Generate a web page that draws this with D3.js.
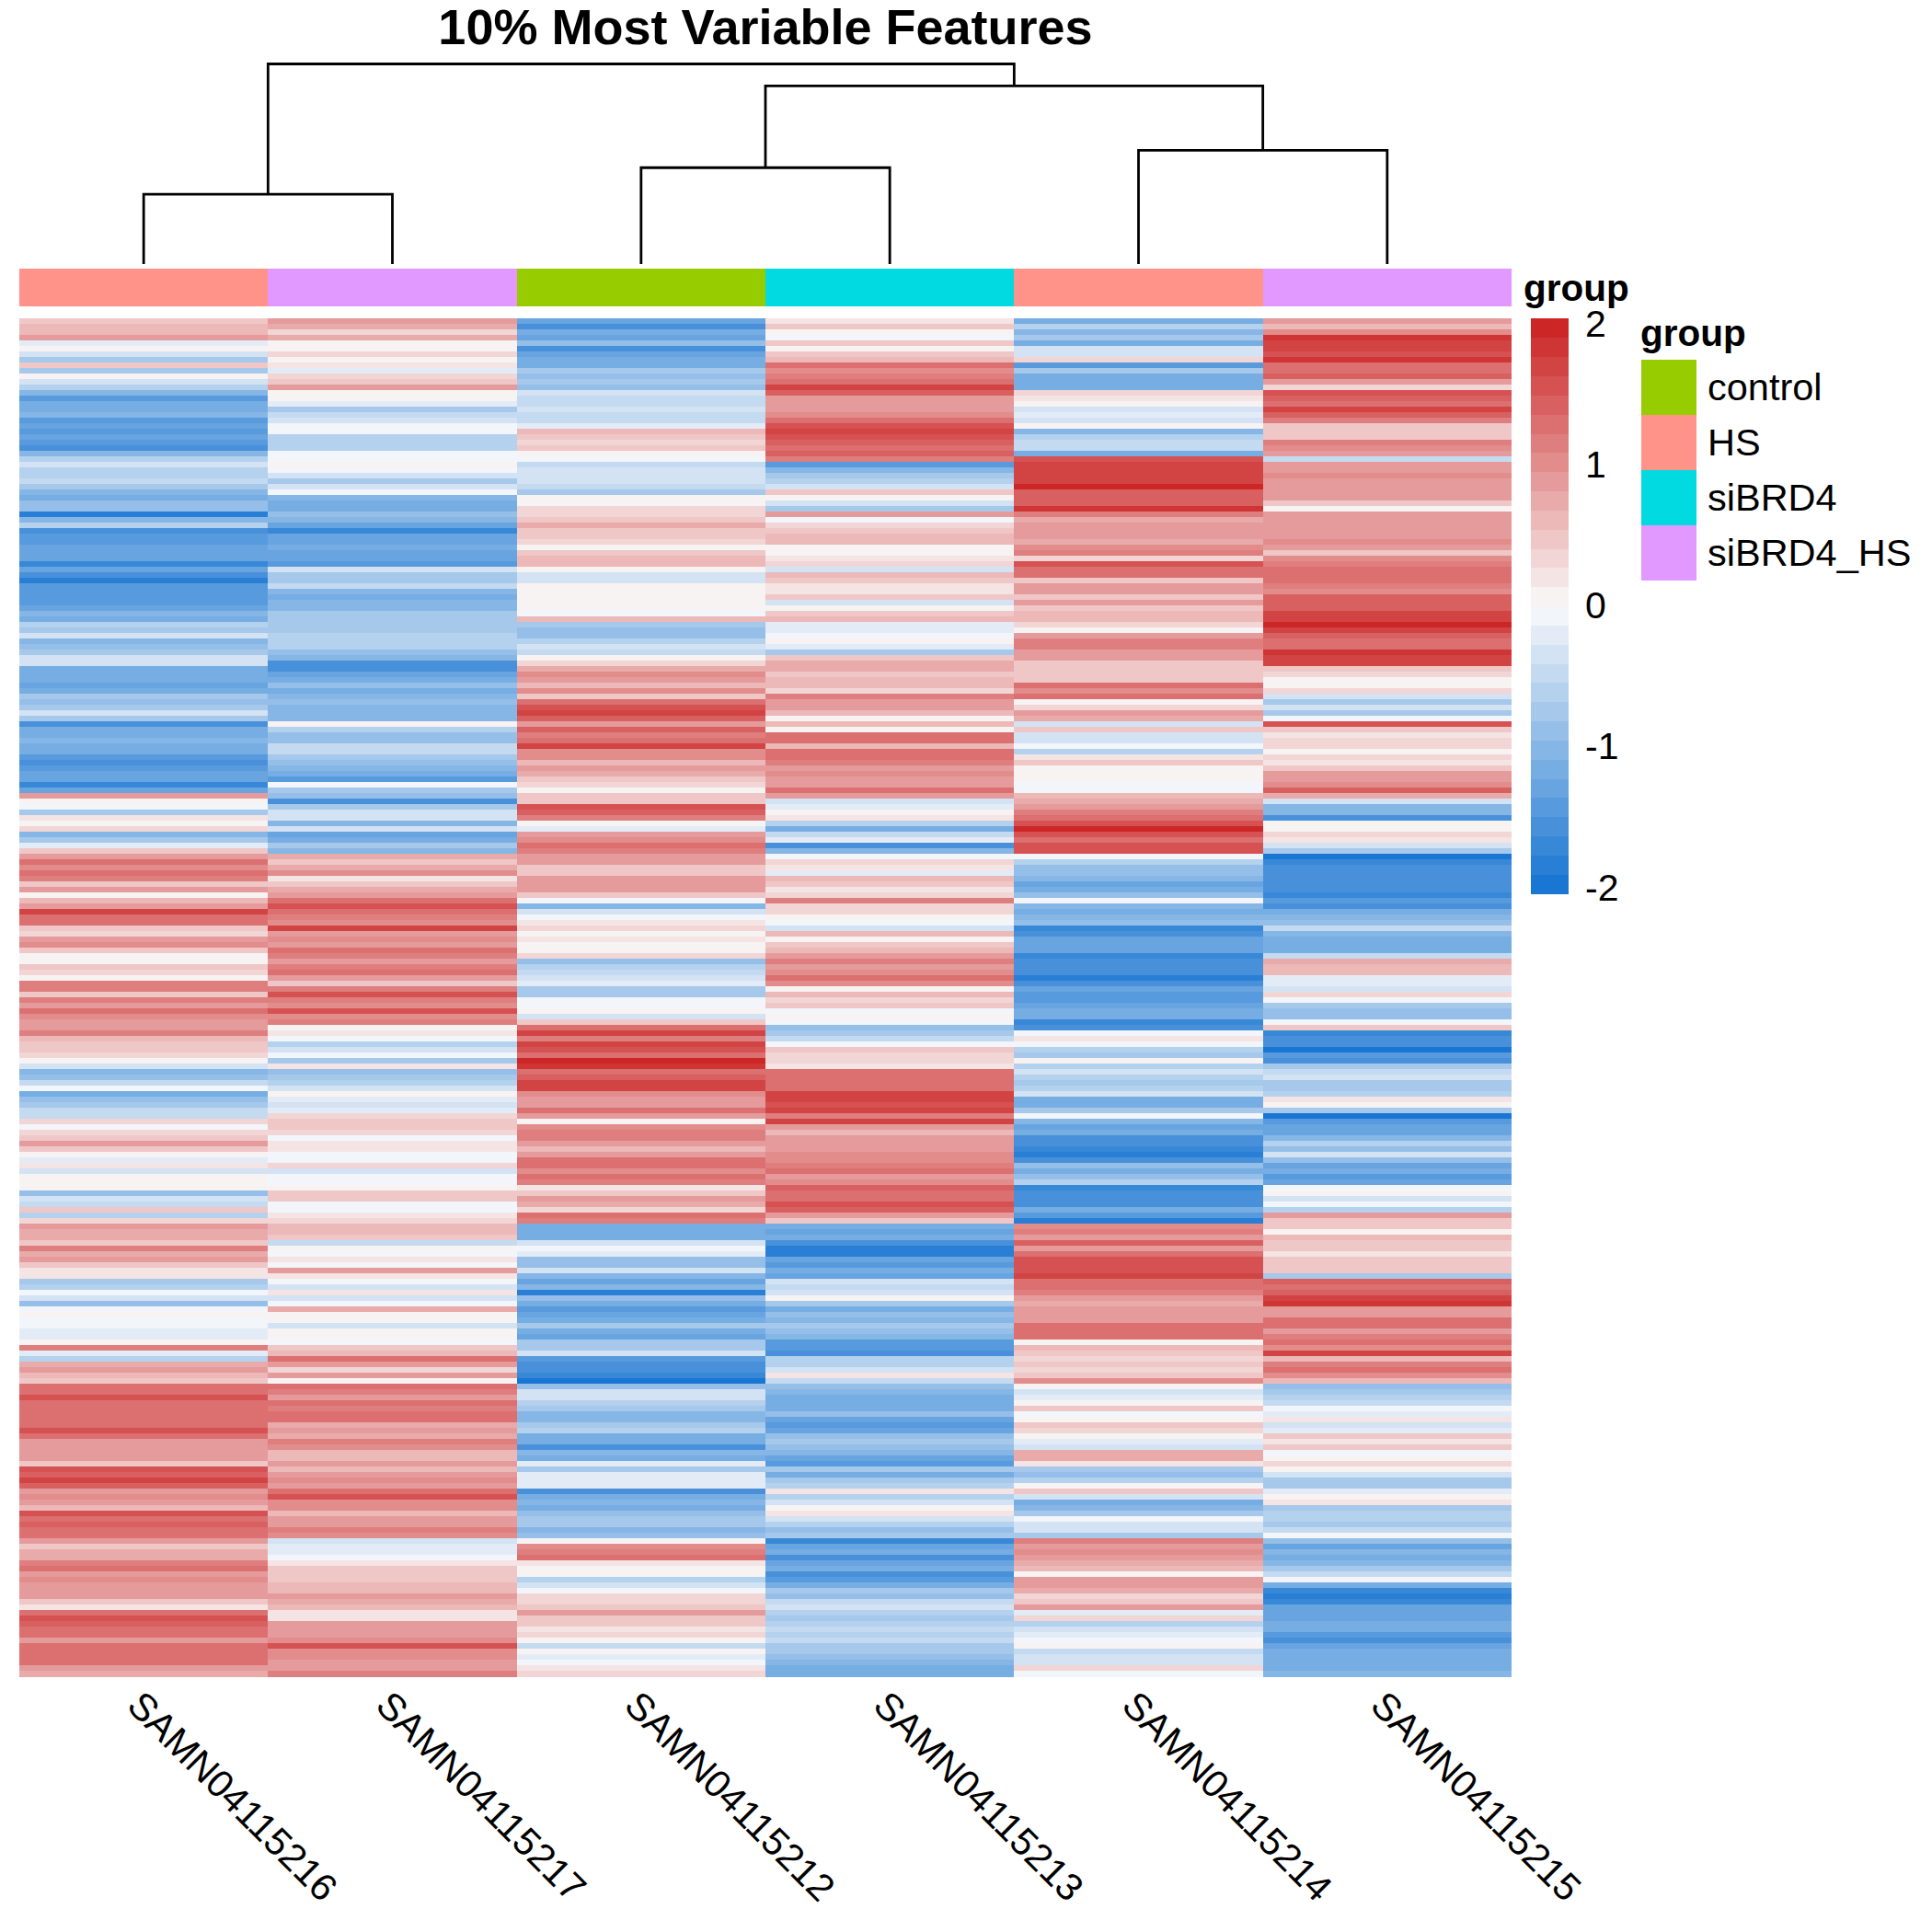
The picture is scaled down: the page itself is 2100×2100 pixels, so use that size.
<!DOCTYPE html>
<html><head><meta charset="utf-8">
<script src="https://cdn.jsdelivr.net/npm/d3@7"></script>
<style>html,body{margin:0;padding:0;background:#fff}svg{display:block}text{font-family:"Liberation Sans",Arial,sans-serif;fill:#000}</style>
</head><body><div id="chart"></div>
<script>
const chartTitle = "10% Most Variable Features";
const samples = ["SAMN04115216","SAMN04115217","SAMN04115212","SAMN04115213","SAMN04115214","SAMN04115215"];
const sampleGroup = ["HS","siBRD4_HS","control","siBRD4","HS","siBRD4_HS"];
const groupNames = ["control","HS","siBRD4","siBRD4_HS"];
const groupColors = ["#97CC00","#FF9289","#00DAE0","#E199FF"];
const legendTicks = [2,1,0,-1,-2];
const rampStops = ["#1976D2","#FAFAFA","#CC2626"];

// z-scores estimated by eye from top to bottom
const s216 = [
.4,.6,.6,.8,-.2,0,-.4,-.8,.4,-.7,0,-.4,-.6,-1,-1.4,-1.2,-1.2,-1,-1.4,-1.3,-1.4,-1.3,-1.4,-1.5,-1,-.6,-.3,-.6,-.6,-.5,-.8,-1,-1.1,-.9,-.9,-1.8,-1,-.6,-1.5,-1.4,-1.4,-1.3,-1.3,-1.3,-1.7,-1.3,-1.5,-1.8,-1.4,-1.4,-1.4,-1.4,-1.3,-1,-1.2,-.6,-.7,-.3,-1,-.9,-.7,-.3,-.4,-1.1,-1.2,-1.1,
-1.3,-1.1,-.8,-.9,-.8,-.4,-.8,-1.5,-1.1,-1.1,-1,-1.1,-1.2,-1.4,-1.5,-1.4,-1.3,-1.3,-1.7,-1.3,.9,.1,
-.1,-.7,.2,.1,.3,-1,-.7,-.2,.4,.8,1.2,1,1.3,1.1,.5,.9,.1,.6,.9,1.6,1.3,1.2,.4,
.3,.9,1,.5,.1,.1,.5,.3,.1,1.1,1.1,.5,1.1,.9,1.2,1,.9,.8,1.1,.6,.4,.5,.3,
0,-.4,-1,-.9,-.5,-.1,-1.2,-.9,-.8,-.5,-.5,.3,-.1,.3,.5,.9,.5,.1,-.2,.2,-.3,.1,.1,
0,-.9,-.3,-.5,.5,-.6,.3,.8,.7,.7,.5,1.1,.7,.8,.4,.2,.2,-.7,-.6,-.1,-.3,-.9,
-.1,.1,-.1,-.1,-.2,-.2,.1,1.1,-.2,-.6,.7,.9,.6,.5,1.3,1.3,1.5,1.3,1.2,1.2,1.3,1.3,1.5,
1.2,.8,.9,.8,.8,.5,1.5,1.4,1.6,1.4,.8,1,.9,.6,1.5,1.3,1.4,1.2,1.3,.9,.4,.7,.7,
1.1,1.2,.8,1,.9,.8,.8,.5,.2,1.2,1.5,1.4,1.3,1.2,.9,1.2,1.2,1.3,1.3,.8,.7];
const s217 = [
.9,.7,.3,.7,0,0,.3,0,.2,-.2,.3,.5,.9,0,.1,-.2,-.8,-.5,-.4,-.1,-.1,-.6,-.6,-.6,-.1,-.1,.1,-.1,-.4,-.8,-.4,-.1,-1,-1.2,-1.1,-.9,-1,-1.3,-1.7,-1.3,-1.3,-1.2,-1.3,-1.3,-1.4,-.3,-.8,-.8,-.5,-1,-1.1,-1,-1,-.8,-.7,-.7,-.7,-.6,-.6,-.6,-.9,-1,-1.5,-1.5,-1.3,-1.2,
-.9,-1.2,-1,-.9,-1,-1,-1,.1,-.6,-.9,-.9,-.5,-.5,-.7,-.9,-1,-1.1,-1.4,-.1,-.8,-.9,-1.6,
-.7,-.3,-.3,-1,-.3,-1.3,-1.2,-.8,-1,.7,.5,.7,1,.2,.5,.7,.9,1.2,1.5,1.2,1.1,1,1.6,
.8,1,.9,1.3,1.1,.9,1.1,1.2,.8,.4,1.1,1.5,1.1,1,1.5,1,1.1,.1,.2,-.1,-.6,-.3,-.1,
-.8,.2,-.9,-.8,-.6,-.3,.1,-.2,-.4,-.2,.3,.5,.4,.3,-.1,.2,.2,-.1,-.1,.3,-.4,-.1,-.1,
.1,.5,.4,-.1,-.1,.2,.3,.6,.6,.4,-.5,.1,-.1,.2,-.1,.8,.2,-.1,-.4,.2,-.4,-.1,
.7,.1,.1,-.3,.1,.1,-.1,.5,.6,1.3,.8,.3,.8,.1,1.2,1.1,.9,1.2,1.1,1.3,1.2,.7,.8,
.7,1.1,1,.6,.6,.9,.6,.9,1,.8,1.3,1.5,1,1,.6,.9,.9,1.1,1,-.4,-.2,-.2,-.1,
.2,.5,.5,.5,.6,.6,.9,.7,.6,.2,.2,.8,.8,.9,1,1.5,1,1,.9,.8,1.1];
const s212 = [
-1.3,-1.5,-1.2,-1.3,-.9,-1.5,-1.3,-1.2,-1.2,-.8,-.9,-.7,-.9,-.4,-.5,-.5,-.3,-.5,-.5,-.2,.6,.5,.3,.5,.1,-.1,-.5,-.4,-.3,-.4,-.5,-.7,0,.1,.3,.3,.5,.7,.5,.4,.3,.1,.4,.6,.6,.1,-.3,-.3,0,.1,0,.1,0,-.1,.6,-.7,-.9,-.9,-.6,-.4,-.5,.1,.3,.7,1,.9,
.6,1,.5,1.3,1.5,1.7,1.4,.8,1.4,1.1,1.2,1.6,1,1,.6,.9,.7,.5,.3,.1,.4,.5,
1.5,1.4,1.1,0,-.2,.8,1,1.3,1.1,.9,.8,.5,.5,.9,.8,.9,.5,-.1,-1,-.4,-.1,.2,.3,
.1,.2,.1,0,.3,-.9,-.6,-.5,-.4,-.2,-.8,-.8,-.1,-.1,0,-.3,.5,1.3,1.6,1.1,1.6,1.5,1.3,
1.9,1.8,1.3,1.4,1.6,1.7,1,.8,.8,1.2,.8,.1,1,1.1,1.1,.8,.6,.9,1.3,1.3,1,1.2,1.1,
.2,.4,.8,.7,.3,1.3,1.1,-1.2,-1.1,-1.2,-.3,-.1,-.2,-.9,-.9,-.4,-1,-1.3,-1,-1.8,-.9,-1.2,
-1.4,-1.3,-1.2,-.8,-1.2,-1.3,-.8,-.7,-.4,-1.4,-1.6,-1.6,-1.7,-1.9,-.9,-.4,-.3,-.6,-.8,-1,-1,-.8,-.6,
-1.1,-1.2,-1.5,-1,-1.1,-.2,-.8,-.2,-.2,-.2,-1.6,-1.1,-1,-1.2,-.9,-.7,-.8,-1,-.9,.1,1,1.1,1.2,
.2,0,.1,-.6,-.3,-.1,.3,.3,.5,.9,.5,.5,.2,.3,.1,-.5,0,-.2,-.1,.2,.3];
const s213 = [
.2,.5,0,-.1,.4,.1,.5,.6,1.3,1,1.1,1.2,1.7,1.4,.9,.9,.9,1,1.2,1.5,1.6,1.5,1.4,1.3,1.4,1.1,-1.4,-1,-.7,-.6,-.3,.4,0,-.4,-.8,.9,-.1,.3,.4,.6,.6,.1,0,.2,.3,-.3,.6,.4,.2,.2,.5,-.3,.1,.4,.6,-.2,-.2,-.1,0,-.2,-.7,.5,.7,.7,.5,.6,
.6,.3,1.1,.9,.8,.6,.1,.6,.1,1.3,1.2,.6,1.2,1.3,1.1,.9,1,.8,.9,1.2,.9,-.3,
-.2,0,.2,-.6,-1.1,-.5,-.2,-1.6,-1,-.1,.3,.2,-.2,.6,.4,.2,.3,1.1,.3,.3,.1,-.1,-.4,
.6,.1,.4,.6,.8,1.1,.9,1,1.2,1,0,.6,.3,.5,-.1,.1,-.1,-.9,-.7,-.5,-.1,.4,.3,
.3,.2,1.2,1.3,1.2,1.2,1.6,1.6,1.5,1.7,1.1,1.6,.9,.6,.9,.8,.9,1,1,1.1,1.2,.9,1,
1.4,1.3,1.2,1.5,1.4,.9,.5,-1.1,-1.3,-1.1,-1.5,-1.8,-1.8,-1.3,-1.4,-1.2,-1.3,-.4,-.5,-.3,.1,-.8,
-1.1,-.9,-1,-.7,-.9,-1,-1.4,-1.4,-1.6,-.6,-.6,-.3,.2,-.5,-.9,-1,-1.1,-1.1,-1.1,-.9,-1.3,-1.4,-1.3,
-.9,-.8,-.9,-1,-1.3,-1.4,-.8,-1.2,-.8,-.6,.2,-.6,-.4,0,.2,-.3,-.6,-.9,-.7,-1.7,-1.3,-1.2,-1.5,
-1.3,-1.2,-1.6,-1.4,-1.1,-.7,-.9,-.5,-.3,-.6,-.8,-.6,-.5,-.6,-.5,-.8,-.7,-.9,-1,-1.1,-1.2];
const s214 = [
-1.1,-.6,-1,-.8,-1.2,-.3,-.3,.3,-1.4,-.8,-1.2,-1.2,-1.1,.3,.2,.1,-.3,-.2,-.4,0,-1,-.6,-.5,-.5,-1.1,1.5,1.7,1.7,1.6,1.6,1.9,1.4,1.4,1.4,1.8,1.1,.7,.8,.8,.8,.7,1,1.1,.3,1.5,1.2,1.2,.5,.9,.9,.5,.9,.4,.6,.6,.3,0,.9,1.1,1.1,.9,.8,.4,.5,.5,.5,
1.2,1,1.3,.1,.3,.9,.7,-.3,.4,-.3,-.3,-.1,-.6,.2,.5,.1,.1,.1,-.1,-.1,.6,.7,
.9,1.1,1.2,1.5,1.9,1.5,1.2,1.5,1.5,-.1,-.6,-.9,-.9,-1,-1.3,-1.2,-.9,-.1,-1,-1.1,-1,-.9,-1.7,
-1.6,-1.3,-1.3,-1.3,-1.7,-1.5,-1.6,-1.6,-1.8,-1.5,-1.3,-1.4,-1.4,-1.3,-1.2,-1.1,-1.7,-1.6,-.1,.2,-.1,-.6,-.8,
0,-.6,-.3,-.6,-.7,-.6,-.3,-1.2,-1.1,-.8,-.1,-1,-1.3,-1.2,-1.5,-1.6,-1.7,-1.8,-1.5,-.9,-1.1,-.9,-.6,
-1.7,-1.6,-1.5,-1.5,-1.1,-1.4,-1.8,1,1.1,.8,1.4,.8,1.3,1.5,1.5,1.5,1.6,1.3,1.2,1.1,.8,.7,
.8,.8,.9,1.3,1.2,1.2,.1,.6,.5,.3,.4,.3,.4,1,0,-.4,-.2,.1,.5,-.1,0,.5,.3,
.1,-.2,-.3,.7,.7,.2,-.8,-.9,-.6,.1,.5,-.3,-1.2,-1,-.8,-.1,-.3,-.3,-.7,1.1,.8,1,.9,
.7,.6,.1,.8,.8,.7,.3,.4,.9,-.2,.3,-.6,-.3,-.2,-.1,0,-.5,-.3,-.3,.3,-.1];
const s215 = [
.8,.6,1,1.8,1.7,1.7,1.5,1.8,1.2,1.3,1.4,.8,.3,1.5,1.4,1.3,1.7,1.4,1.1,.5,.5,.5,1.1,1,.9,-.5,.9,.8,1,.8,.9,.9,.8,.4,.1,.8,.9,.9,.8,.9,1,.9,.5,1,1.1,1.2,1.3,1.3,1.1,1,1.4,1.4,1.4,1.6,1.7,2,1.6,1.4,1.3,1.3,1.8,1.6,1.6,.4,.3,0,
.1,.3,-.4,-.7,-.4,-.8,-.1,1.5,.5,.2,.3,.3,.1,.3,.2,.5,.9,.9,1,1.4,.7,-.3,
-1,-1,-1.6,.1,0,.3,.2,-.4,-.7,-1.9,-1.7,-1.6,-1.6,-1.5,-1.6,-1.6,-1.7,-1.4,-1.5,-1.2,-1,-.9,-.5,
-1,-1.1,-1.1,-1.2,-.5,.7,.6,.6,-.2,-.2,-.3,.3,-.1,-.7,-.9,-.9,-.1,.4,-1.7,-1.6,-1.5,-1.9,-1.4,
-1.5,-.8,-.5,-.4,-.8,-.8,-.6,.2,.1,-.8,-1.9,-1.4,-1.3,-1.3,-1,-.6,-.9,-.4,-.9,-1.3,-1.2,-1.4,-1.3,
-.1,0,-.4,-.1,-.6,.9,.5,.4,.1,.6,.5,.4,.2,.4,.5,.4,-.7,1.4,1.3,1.4,1.6,1.8,
.8,.8,1.2,1.2,.9,1.1,1.3,1,1.7,.6,1.1,1.3,1,.6,-.9,-.8,-.6,-.5,-.1,-.2,.2,-.3,-.2,
.4,.2,.5,-.1,.1,.3,.1,-.4,-.8,-.7,-.2,0,.2,-.8,-.6,-.6,-.7,-.5,-.1,-.9,-1.3,-1,-1.1,
-1,-.8,-.5,-.1,-1.2,-1.7,-1.8,-1.7,-1.3,-1.3,-1.3,-1.1,-1.2,-1.4,-1.5,-1.3,-1.2,-1.1,-1.2,-1.1,-1];
const columns = [s216,s217,s212,s213,s214,s215];

// dendrogram merge heights
const mergeLeft = 76, mergeMid = 105, mergeRight = 124, mergeInner = 194, mergeRoot = 218;

const W=2100,H=2100;
const svg=d3.select("#chart").append("svg").attr("width",W).attr("height",H);

const x=d3.scaleBand().domain(samples).range([21,1643]);
const nRows=d3.max(columns,c=>c.length);
const y=d3.scaleBand().domain(d3.range(nRows)).range([346,1822]);

const ramp=d3.scaleLinear().domain([0,.5,1]).range(rampStops).interpolate(d3.interpolateRgb);
const palette=d3.range(30).map(i=>ramp(i/29));
const color=d3.scaleQuantize().domain([-2,2]).range(palette);

// heat cells
const gHeat=svg.append("g").attr("shape-rendering","crispEdges");
samples.forEach((s,ci)=>{
  gHeat.append("g").selectAll("rect").data(columns[ci]).join("rect")
    .attr("x",x(s)).attr("width",x.bandwidth())
    .attr("y",(d,i)=>y(i)).attr("height",y.bandwidth()+.5)
    .attr("fill",d=>color(d));
});

// annotation strip
const gColor=d3.scaleOrdinal().domain(groupNames).range(groupColors);
svg.append("g").attr("shape-rendering","crispEdges").selectAll("rect").data(samples).join("rect")
  .attr("x",d=>x(d)).attr("width",x.bandwidth()).attr("y",292).attr("height",41)
  .attr("fill",(d,i)=>gColor(sampleGroup[i]));

// dendrogram
const dy=d3.scaleLinear().domain([0,mergeRoot]).range([287,69.5]);
const tree={h:mergeRoot,c:[
  {h:mergeLeft,c:[{s:samples[0]},{s:samples[1]}]},
  {h:mergeInner,c:[
    {h:mergeMid,c:[{s:samples[2]},{s:samples[3]}]},
    {h:mergeRight,c:[{s:samples[4]},{s:samples[5]}]}]}]};
const gD=svg.append("g").attr("fill","none").attr("stroke","#000").attr("stroke-width",2.8);
(function drawNode(n){
  if(n.s){n.x=x(n.s)+x.bandwidth()/2;n.h=0;return;}
  n.c.forEach(drawNode);
  n.x=(n.c[0].x+n.c[1].x)/2;
  const [a,b]=n.c;
  gD.append("path").attr("d",d3.line()([[a.x,dy(a.h)],[a.x,dy(n.h)],[b.x,dy(n.h)],[b.x,dy(b.h)]]));
})(tree);

// title
svg.append("text").attr("x",832).attr("y",48).attr("text-anchor","middle")
  .attr("font-size",54).attr("font-weight","bold").text(chartTitle);

// column labels
svg.append("g").selectAll("text").data(samples).join("text")
  .attr("transform",d=>`translate(${x(d)+x.bandwidth()/2-20},1856) rotate(45)`)
  .attr("font-size",41.5).text(d=>d);

// colour bar
svg.append("text").attr("x",1656).attr("y",327).attr("font-size",40.5).attr("font-weight","bold").text("group");
const barH=d3.scaleBand().domain(d3.range(30)).range([971,346]);
svg.append("g").attr("shape-rendering","crispEdges").selectAll("rect").data(palette).join("rect")
  .attr("x",1664).attr("width",41).attr("y",(d,i)=>barH(i)).attr("height",barH.bandwidth()+.5).attr("fill",d=>d);
const tickY=d3.scaleLinear().domain([-2,2]).range([964,351]);
svg.append("g").selectAll("text").data(legendTicks).join("text")
  .attr("x",1723).attr("y",d=>tickY(d)+14.5).attr("font-size",41).text(d=>String(d));

// group legend
svg.append("text").attr("x",1783).attr("y",376).attr("font-size",40.5).attr("font-weight","bold").text("group");
const legY=d3.scaleBand().domain(groupNames).range([391,631]);
svg.append("g").attr("shape-rendering","crispEdges").selectAll("rect").data(groupNames).join("rect")
  .attr("x",1784).attr("width",60).attr("y",d=>legY(d)).attr("height",legY.bandwidth()).attr("fill",d=>gColor(d));
svg.append("g").selectAll("text").data(groupNames).join("text")
  .attr("x",1856).attr("y",d=>legY(d)+legY.bandwidth()/2+14).attr("font-size",41.5).text(d=>d);
</script></body></html>
